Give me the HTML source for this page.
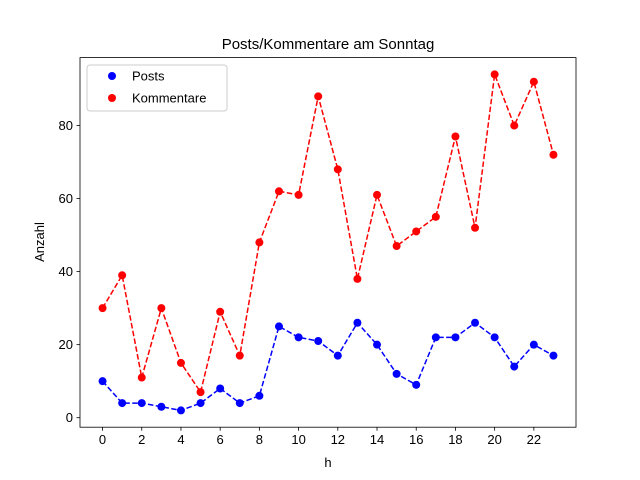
<!DOCTYPE html>
<html><head><meta charset="utf-8"><style>
body{margin:0;background:#fff;}
svg{display:block;font-family:"Liberation Sans","DejaVu Sans",sans-serif;}
</style></head><body>
<svg id="chart" width="640" height="480" viewBox="0 0 640 480">
<rect width="640" height="480" fill="#fff"/>
<g id="plot"></g>
</svg>
<script>
const hours = [0,1,2,3,4,5,6,7,8,9,10,11,12,13,14,15,16,17,18,19,20,21,22,23];
const posts = [10,4,4,3,2,4,8,4,6,25,22,21,17,26,20,12,9,22,22,26,22,14,20,17];
const kommentare = [30,39,11,30,15,7,29,17,48,62,61,88,68,38,61,47,51,55,77,52,94,80,92,72];
const xTicks = [0,2,4,6,8,10,12,14,16,18,20,22];
const yTicks = [0,20,40,60,80];

const L=80,R=576,T=57.6,B=427.2;
const xmin=-1.15,xmax=24.15,ymin=-2.6,ymax=98.6;
const sx=v=>L+(v-xmin)/(xmax-xmin)*(R-L);
const sy=v=>B-(v-ymin)/(ymax-ymin)*(B-T);
const NS="http://www.w3.org/2000/svg";
const g=document.getElementById('plot');
function mk(tag,attrs,parent){const e=document.createElementNS(NS,tag);for(const k in attrs)e.setAttribute(k,attrs[k]);(parent||g).appendChild(e);return e;}

const frame=mk('rect',{x:L,y:T,width:R-L,height:B-T,fill:'none',stroke:'#000','stroke-width':0.8});



xTicks.forEach(t=>{
  const x=sx(t);
  const l=mk('line',{x1:x,x2:x,y1:B,y2:B+3.5,stroke:'#000','stroke-width':0.8});
  
  
  const tx=mk('text',{x:x,y:B+17,'text-anchor':'middle','font-size':13});
  tx.textContent=t;
  
  
});
yTicks.forEach(t=>{
  const y=sy(t);
  const l=mk('line',{x1:L-3.5,x2:L,y1:y,y2:y,stroke:'#000','stroke-width':0.8});
  
  
  const tx=mk('text',{x:L-7,y:y+4.5,'text-anchor':'end','font-size':13});
  tx.textContent=t;
  
  
});

function series(vals,color,name){
  const pl=mk('polyline',{points:hours.map((h,i)=>sx(h)+','+sy(vals[i])).join(' '),fill:'none',stroke:color,'stroke-width':1.5,'stroke-dasharray':'5.5,2.4'});
  
  
  hours.forEach((h,i)=>{
    const c=mk('circle',{cx:sx(h),cy:sy(vals[i]),r:4,fill:color});
    
    
  });
}
series(posts,'#0000ff','posts');
series(kommentare,'#ff0000','kommentare');

const title=mk('text',{x:328,y:49,'text-anchor':'middle','font-size':15});
title.textContent='Posts/Kommentare am Sonntag';


const xl=mk('text',{x:328,y:467,'text-anchor':'middle','font-size':13});
xl.textContent='h';


const yl=mk('text',{x:44,y:242,'text-anchor':'middle','font-size':13,transform:'rotate(-90 44 242)'});
yl.textContent='Anzahl';



const lg=mk('rect',{x:87,y:65,width:140,height:46,rx:3,fill:'#fff',stroke:'#ccc','stroke-width':1,'fill-opacity':0.8});


[['Posts','#0000ff',76],['Kommentare','#ff0000',98]].forEach(([n,c,y])=>{
  const d=mk('circle',{cx:112,cy:y,r:4,fill:c});
  
  
  const t=mk('text',{x:132,y:y+4.5,'font-size':13});
  t.textContent=n;
  
  
});
</script>
</body></html>
